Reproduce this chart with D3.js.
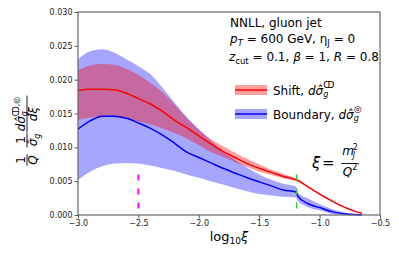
<!DOCTYPE html>
<html>
<head>
<meta charset="utf-8">
<script src="https://cdn.jsdelivr.net/npm/d3@7"></script>
<style>
  body { margin: 0; background: #fff; }
  svg { display: block; font-family: "DejaVu Sans", sans-serif; }
</style>
</head>
<body>
<div id="chart"></div>
<script>
/*------ data ------*/

// log10(xi) grid (the pair -1.195 / -1.18 is the jump at the green line)
var logXi = [-3.0, -2.9, -2.8, -2.7, -2.6, -2.5, -2.4, -2.3, -2.2, -2.1, -2.0, -1.9, -1.8,
             -1.7, -1.6, -1.5, -1.4, -1.3, -1.195, -1.18, -1.1, -1.0, -0.9, -0.8, -0.7, -0.65];

// Shift, central + band
var shiftMid = [0.0184, 0.0186, 0.0186, 0.0185, 0.0180, 0.0172, 0.0164, 0.0153, 0.0140, 0.0129, 0.0117, 0.0105, 0.0094,
                0.0085, 0.0076, 0.0069, 0.0063, 0.0057, 0.0052, 0.0051, 0.0042, 0.0031, 0.0021, 0.0012, 0.0005, 0.00025];
var shiftHi  = [0.0214, 0.0221, 0.0223, 0.0222, 0.0216, 0.0207, 0.0195, 0.0181, 0.0163, 0.0143, 0.0126, 0.0112, 0.0102,
                0.0092, 0.0083, 0.0075, 0.0067, 0.0061, 0.0054, 0.0053, 0.0043, 0.0032, 0.0022, 0.0013, 0.0006, 0.0003];
var shiftLo  = [0.0140, 0.0144, 0.0145, 0.0145, 0.0142, 0.0138, 0.0134, 0.0128, 0.0121, 0.0113, 0.0103, 0.0093, 0.0086,
                0.0078, 0.0071, 0.0064, 0.0059, 0.0054, 0.0050, 0.0049, 0.0041, 0.0030, 0.0020, 0.0011, 0.0004, 0.0002];

// Boundary, central + band
var boundMid = [0.0127, 0.0139, 0.0146, 0.0146, 0.0143, 0.0136, 0.0128, 0.0118, 0.0106, 0.0093, 0.0085, 0.0077, 0.0069,
                0.0062, 0.0055, 0.0049, 0.0043, 0.0037, 0.0034, 0.0028, 0.0017, 0.0011, 0.0005, 0.0002, 0.00005, 0.0];
var boundHi  = [0.0230, 0.0242, 0.0245, 0.0240, 0.0230, 0.0220, 0.0208, 0.0188, 0.0166, 0.0145, 0.0127, 0.0110, 0.0094,
                0.0082, 0.0070, 0.0060, 0.0052, 0.0046, 0.0042, 0.0033, 0.0025, 0.0016, 0.0009, 0.0004, 0.0001, 0.0];
var boundLo  = [0.0052, 0.0064, 0.0072, 0.0076, 0.0077, 0.0076, 0.0073, 0.0069, 0.0065, 0.0060, 0.0055, 0.0050, 0.0045,
                0.0040, 0.0035, 0.0031, 0.0029, 0.0027, 0.0026, 0.0021, 0.0012, 0.0007, 0.0002, 0.00005, 0.0, 0.0];

var xTicks = [-3.0, -2.5, -2.0, -1.5, -1.0, -0.5];
var yTicks = [0.000, 0.005, 0.010, 0.015, 0.020, 0.025, 0.030];

var vlineMagenta = -2.5;
var vlineGreen = -1.19;
var vlineTop = 0.006;

/*------ canvas ------*/

var width = 399, height = 254;
var svg = d3.select("#chart").append("svg")
    .attr("width", width)
    .attr("height", height);

var x = d3.scaleLinear().domain([-3.0, -0.5]).range([78, 380]);
var y = d3.scaleLinear().domain([0, 0.030]).range([215, 12]);

var rows = logXi.map(function(v, i) {
  return { x: v, sm: shiftMid[i], sh: shiftHi[i], sl: shiftLo[i],
           bm: boundMid[i], bh: boundHi[i], bl: boundLo[i] };
});

/*------ bands and lines ------*/

var bandB = d3.area().curve(d3.curveMonotoneX)
    .x(function(d) { return x(d.x); })
    .y0(function(d) { return y(d.bl); })
    .y1(function(d) { return y(d.bh); });
var bandS = d3.area().curve(d3.curveMonotoneX)
    .x(function(d) { return x(d.x); })
    .y0(function(d) { return y(d.sl); })
    .y1(function(d) { return y(d.sh); });
var lineB = d3.line().curve(d3.curveMonotoneX)
    .x(function(d) { return x(d.x); }).y(function(d) { return y(d.bm); });
var lineS = d3.line().curve(d3.curveMonotoneX)
    .x(function(d) { return x(d.x); }).y(function(d) { return y(d.sm); });

svg.append("path").attr("d", bandB(rows)).attr("fill", "blue").attr("fill-opacity", 0.35);
svg.append("path").attr("d", bandS(rows)).attr("fill", "red").attr("fill-opacity", 0.37);
svg.append("path").attr("d", lineS(rows)).attr("fill", "none").attr("stroke", "red").attr("stroke-width", 1.5);
svg.append("path").attr("d", lineB(rows)).attr("fill", "none").attr("stroke", "blue").attr("stroke-width", 1.5);

// dashed markers
svg.append("line")
    .attr("x1", x(vlineMagenta)).attr("x2", x(vlineMagenta))
    .attr("y1", y(vlineTop)).attr("y2", y(0))
    .attr("stroke", "magenta").attr("stroke-width", 2).attr("stroke-dasharray", "6,8");
svg.append("line")
    .attr("x1", x(vlineGreen)).attr("x2", x(vlineGreen))
    .attr("y1", y(vlineTop)).attr("y2", y(0))
    .attr("stroke", "#33cc33").attr("stroke-width", 1.5).attr("stroke-dasharray", "6,8");

/*------ axes ------*/

var xAxis = svg.append("g").attr("transform", "translate(0,215)")
    .call(d3.axisBottom(x).tickValues(xTicks).tickFormat(d3.format(".1f")).tickSize(3.5).tickPadding(2));
var yAxis = svg.append("g").attr("transform", "translate(78,0)")
    .call(d3.axisLeft(y).tickValues(yTicks).tickFormat(d3.format(".3f")).tickSize(3.5).tickPadding(2));

[xAxis, yAxis].forEach(function(a) {
  a.select(".domain").remove();
  a.selectAll("line").attr("stroke", "#555");
  a.selectAll("text").attr("fill", "#222").style("font-size", "8px").style("font-family", "DejaVu Sans");
});

svg.append("rect")
    .attr("x", 78).attr("y", 12).attr("width", 302).attr("height", 203)
    .attr("fill", "none").attr("stroke", "#666").attr("stroke-width", 1.2);

/*------ axis labels ------*/

svg.append("text")
    .attr("x", 229).attr("y", 241)
    .attr("text-anchor", "middle")
    .style("font-size", "13px")
    .call(function(t) {
      t.append("tspan").text("log");
      t.append("tspan").attr("dy", 3).style("font-size", "9px").text("10");
      t.append("tspan").attr("dy", -3).style("font-style", "italic").text("ξ");
    });

// y label: 1/Q 1/sigma_g dsigma/dxi, rotated
var yl = svg.append("g").attr("transform", "translate(27,130) rotate(-90)");

function frac(g, cx, numFn, denFn) {
  var num = g.append("g"), den = g.append("g");
  numFn(num); denFn(den);
  var nb = num.node().getBBox(), db = den.node().getBBox();
  var w = Math.max(nb.width, db.width) + 2;
  num.attr("transform", "translate(" + (cx - nb.x - nb.width / 2) + ",0)");
  den.attr("transform", "translate(" + (cx - db.x - db.width / 2) + ",0)");
  g.append("line").attr("x1", cx - w / 2).attr("x2", cx + w / 2)
      .attr("y1", 0).attr("y2", 0).attr("stroke", "#000").attr("stroke-width", 0.9);
}

function plain(txt, yy, italic) {
  return function(g) {
    g.append("text").attr("y", yy).style("font-size", "12px")
        .style("font-style", italic ? "italic" : "normal").text(txt);
  };
}

frac(yl, -30, plain("1", -2.5, false), plain("Q", 10, true));
frac(yl, -10, plain("1", -2.5, false), function(g) {
  var t = g.append("text").attr("y", 10).style("font-size", "12px").style("font-style", "italic");
  t.append("tspan").text("σ̂");
  t.append("tspan").attr("dy", 2.5).style("font-size", "8px").text("g");
});
frac(yl, 16, function(g) {
  var t = g.append("text").attr("y", -2.5).style("font-size", "12px").style("font-style", "italic").text("dσ̂");
  var w = t.node().getComputedTextLength();
  g.append("text").attr("x", w).attr("y", 0).style("font-size", "8px").style("font-style", "italic").text("g");
  g.append("text").attr("x", w).attr("y", -8.5).style("font-size", "8px").text("ↀ,◎");
}, plain("dξ", 10, true));

/*------ annotation text ------*/

var note = svg.append("g").style("font-size", "12px");
note.append("text").attr("x", 230).attr("y", 27).text("NNLL, gluon jet");
note.append("text").attr("x", 230).attr("y", 43).call(function(t) {
  t.append("tspan").style("font-style", "italic").text("p");
  t.append("tspan").attr("dy", 2.5).style("font-size", "8.5px").style("font-style", "italic").text("T");
  t.append("tspan").attr("dy", -2.5).text(" = 600 GeV, η");
  t.append("tspan").attr("dy", 2.5).style("font-size", "8.5px").text("J");
  t.append("tspan").attr("dy", -2.5).text(" = 0");
});
note.append("text").attr("x", 229).attr("y", 61).call(function(t) {
  t.append("tspan").style("font-style", "italic").text("z");
  t.append("tspan").attr("dy", 2.5).style("font-size", "8.5px").text("cut");
  t.append("tspan").attr("dy", -2.5).text(" = 0.1, ");
  t.append("tspan").style("font-style", "italic").text("β");
  t.append("tspan").text(" = 1, ");
  t.append("tspan").style("font-style", "italic").text("R");
  t.append("tspan").text(" = 0.8");
});

/*------ legend ------*/

var legendItems = [
  { label: "Shift, ", sup: "ↀ", color: "red", op: 0.37, cy: 90 },
  { label: "Boundary, ", sup: "◎", color: "blue", op: 0.35, cy: 114 }
];

legendItems.forEach(function(it) {
  var g = svg.append("g");
  g.append("rect").attr("x", 235).attr("y", it.cy - 5).attr("width", 32).attr("height", 10)
      .attr("fill", it.color).attr("fill-opacity", it.op);
  g.append("line").attr("x1", 235).attr("x2", 267).attr("y1", it.cy).attr("y2", it.cy)
      .attr("stroke", it.color).attr("stroke-width", 1.5);
  var t = g.append("text").attr("x", 273).attr("y", it.cy + 4.5).style("font-size", "12px");
  t.append("tspan").text(it.label);
  t.append("tspan").style("font-style", "italic").text("dσ̂");
  var w = t.node().getComputedTextLength();
  g.append("text").attr("x", 273 + w).attr("y", it.cy + 7).style("font-size", "8px")
      .style("font-style", "italic").text("g");
  g.append("text").attr("x", 273 + w).attr("y", it.cy - 2.5).style("font-size", "9px").text(it.sup);
});

/*------ xi = m_J^2 / Q^2 ------*/

var xi = svg.append("g");
xi.append("text").attr("x", 312).attr("y", 168).style("font-size", "15px").style("font-style", "italic").text("ξ");
xi.append("text").attr("x", 322).attr("y", 168).style("font-size", "15px").text("=");
var fr = xi.append("g").attr("transform", "translate(0,163.5)");
frac(fr, 350, function(g) {
  g.append("text").attr("y", -9).style("font-size", "12px").style("font-style", "italic").text("m");
  g.append("text").attr("x", 10.5).attr("y", -5.5).style("font-size", "8px").style("font-style", "italic").text("J");
  g.append("text").attr("x", 10.5).attr("y", -14).style("font-size", "8px").text("2");
}, function(g) {
  g.append("text").attr("y", 12.5).style("font-size", "12px").style("font-style", "italic").text("Q");
  g.append("text").attr("x", 9.5).attr("y", 6).style("font-size", "8px").text("2");
});
</script>
</body>
</html>
